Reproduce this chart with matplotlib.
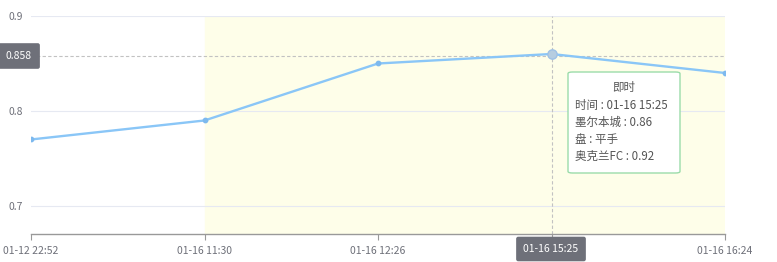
import matplotlib
matplotlib.use("Agg")
import matplotlib.pyplot as plt
from matplotlib.patches import FancyBboxPatch

plt.rcParams['font.family'] = ['Noto Sans CJK SC', 'DejaVu Sans']

categories = ["01-12 22:52", "01-16 11:30", "01-16 12:26", "01-16 15:25", "01-16 16:24"]
values = [0.77, 0.79, 0.85, 0.86, 0.84]
yticks = [0.7, 0.8, 0.9]
shade_start = 1
hover_index = 3
hover_y = 0.858
tooltip_title = "即时"
tooltip_lines = ["时间 : 01-16 15:25", "墨尔本城 : 0.86", "盘 : 平手", "奥克兰FC : 0.92"]

W, H = 777, 262
fig = plt.figure(figsize=(W / 100, H / 100), dpi=100)
ax = fig.add_axes([31 / W, (H - 234) / H, (725 - 31) / W, (234 - 16) / H])

x = list(range(len(categories)))
ax.set_xlim(0, len(categories) - 1)
ax.set_ylim(0.6705, 0.9)

ax.axvspan(shade_start, len(categories) - 1, color="#fefee9", zorder=0)
for t in yticks:
    ax.axhline(t, color="#e6e9f2", lw=0.8, zorder=1)

ax.plot(x, values, color="#8ac6f7", lw=1.7, zorder=3)
ax.scatter(x, values, s=10, color="#7db9ee", zorder=4)
ax.scatter([x[hover_index]], [values[hover_index]], s=45, color="#b6cde0",
           edgecolors="#9ec1e6", lw=1, zorder=5)

# crosshair
ax.axvline(x[hover_index], color="#c2c2c2", lw=0.8, ls=(0, (3, 2)), zorder=2)
ax.axhline(hover_y, color="#c2c2c2", lw=0.8, ls=(0, (3, 2)), zorder=2)

ax.set_yticks(yticks)
ax.set_yticklabels([f"{t:.1f}" for t in yticks])
ax.set_xticks(x)
ax.set_xticklabels(categories)
# the hovered tick label is covered by the axis-pointer label box
ax.get_xticklabels()[hover_index].set_visible(False)
ax.tick_params(axis="y", length=0, pad=6, labelsize=7.5, labelcolor="#6e7079")
ax.tick_params(axis="x", length=4, width=0.8, color="#999999", pad=5,
               labelsize=7.5, labelcolor="#6e7079")
for s in ["top", "right", "left"]:
    ax.spines[s].set_visible(False)
ax.spines["bottom"].set_color("#999999")
ax.spines["bottom"].set_linewidth(1)

# hover x label box
fig.text(551 / W, 1 - 249 / H, categories[hover_index], ha="center", va="center",
         fontsize=7.5, color="white",
         bbox=dict(boxstyle="round,pad=0.7,rounding_size=0.2", fc="#6e7079", ec="none"),
         zorder=10)
# hover y label box
fig.text(19 / W, 1 - 56 / H, f"{hover_y:.3f}", ha="center", va="center", fontsize=7.5,
         color="white",
         bbox=dict(boxstyle="round,pad=0.75,rounding_size=0.2", fc="#6e7079", ec="none"))

# tooltip
box = FancyBboxPatch((568 / W, 1 - 173 / H), (680 - 568) / W, (173 - 72) / H,
                     boxstyle="round,pad=0,rounding_size=0.006", transform=fig.transFigure,
                     fc="white", ec="#9bdcaa", lw=1, zorder=20)
fig.add_artist(box)
fig.text(624 / W, 1 - 88 / H, tooltip_title, ha="center", va="center", fontsize=8.3,
         color="#555555", zorder=21)
for i, line in enumerate(tooltip_lines):
    fig.text(575 / W, 1 - (105 + i * 17) / H, line, ha="left", va="center", fontsize=8.3,
             color="#555555", zorder=21)

fig.savefig("out.png", dpi=100)
